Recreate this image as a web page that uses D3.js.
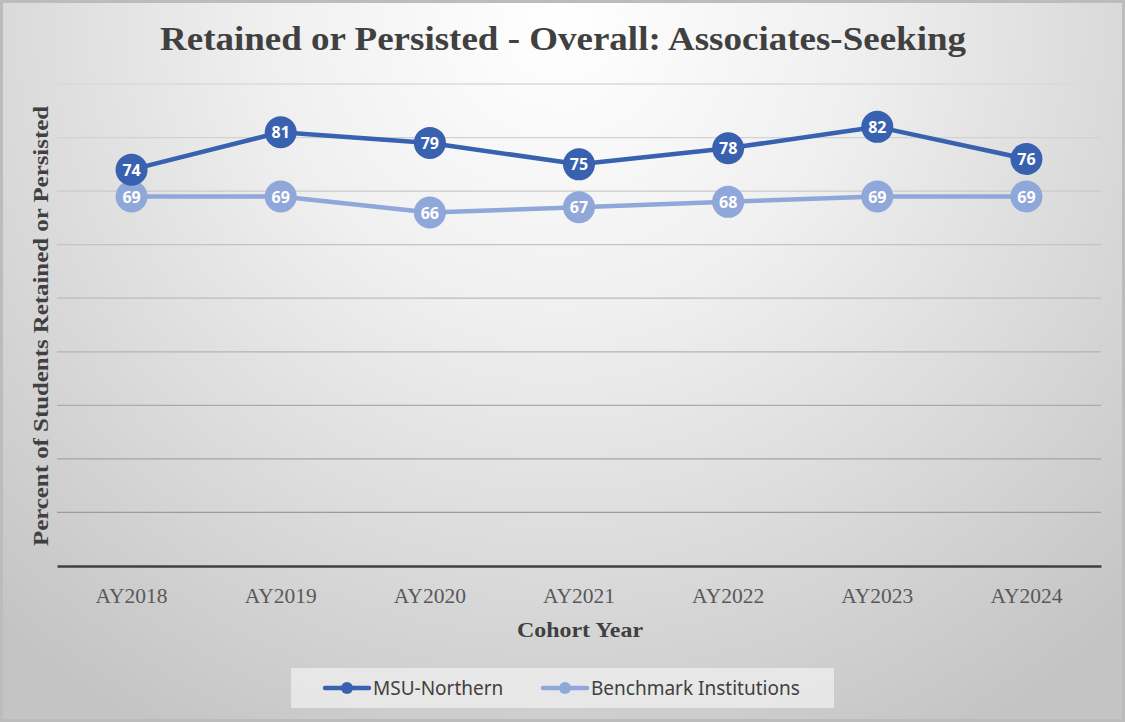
<!DOCTYPE html>
<html>
<head>
<meta charset="utf-8">
<script src="https://cdn.jsdelivr.net/npm/d3@7"></script>
<style>
  html, body { margin: 0; padding: 0; background: #fff; }
  svg { display: block; }
</style>
</head>
<body>
<div id="chart"></div>
<script>
// Veriler
const years = ["AY2018", "AY2019", "AY2020", "AY2021", "AY2022", "AY2023", "AY2024"];
const msuNorthern = [74, 81, 79, 75, 78, 82, 76];
const benchmark = [69, 69, 66, 67, 68, 69, 69];
const yTicks = [0, 10, 20, 30, 40, 50, 60, 70, 80, 90];

const seriesNames = ["MSU-Northern", "Benchmark Institutions"];
const seriesColors = ["#3862af", "#8fa7d9"];

const width = 1125, height = 722;
const plot = { left: 57, right: 1101, top: 84, bottom: 566 };

const svg = d3.select("#chart").append("svg")
  .attr("width", width)
  .attr("height", height);

// Arkaplan gradyani
const defs = svg.append("defs");
const bg = defs.append("radialGradient")
  .attr("id", "bgGrad")
  .attr("gradientUnits", "userSpaceOnUse")
  .attr("cx", 560).attr("cy", 20)
  .attr("r", 820);
bg.append("stop").attr("offset", "0%").attr("stop-color", "#ffffff");
bg.append("stop").attr("offset", "35%").attr("stop-color", "#f0f0f0");
bg.append("stop").attr("offset", "100%").attr("stop-color", "#c4c4c4");

svg.append("rect")
  .attr("x", 1.5).attr("y", 1.5)
  .attr("width", width - 3).attr("height", height - 3)
  .attr("fill", "url(#bgGrad)")
  .attr("stroke", "#bcbcbc")
  .attr("stroke-width", 3);

// Olcekler
const x = d3.scaleBand()
  .domain(years)
  .range([plot.left, plot.right]);

const y = d3.scaleLinear()
  .domain([0, 90])
  .range([plot.bottom, plot.top]);

// Izgara cizgileri (ustte acik, altta koyu)
const gridColor = d3.scaleLinear()
  .domain([plot.top, plot.bottom - 54])
  .range(["#dadada", "#9c9c9c"]);

svg.append("g")
  .selectAll("line")
  .data(yTicks.filter(d => d > 0))
  .join("line")
  .attr("x1", plot.left).attr("x2", plot.right)
  .attr("y1", d => y(d)).attr("y2", d => y(d))
  .attr("stroke", d => gridColor(y(d)))
  .attr("stroke-width", 1.3);

// X ekseni
const xAxis = svg.append("g")
  .attr("transform", `translate(0,${plot.bottom})`)
  .call(d3.axisBottom(x).tickSize(0).tickPadding(22));
xAxis.select(".domain")
  .attr("stroke", "#404040")
  .attr("stroke-width", 2.5);
xAxis.selectAll("text")
  .attr("font-family", "'Liberation Serif', 'DejaVu Serif', serif")
  .attr("font-size", 21.5)
  .attr("fill", "#595959");

// Baslik
svg.append("text")
  .attr("x", 563).attr("y", 50)
  .attr("text-anchor", "middle")
  .attr("font-family", "'Liberation Serif', 'DejaVu Serif', serif")
  .attr("font-weight", "bold")
  .attr("font-size", 33)
  .attr("fill", "#404040")
  .attr("textLength", 806)
  .attr("lengthAdjust", "spacingAndGlyphs")
  .text("Retained or Persisted - Overall: Associates-Seeking");

// Eksen basliklari
svg.append("text")
  .attr("transform", "translate(48,326) rotate(-90)")
  .attr("text-anchor", "middle")
  .attr("font-family", "'Liberation Serif', 'DejaVu Serif', serif")
  .attr("font-weight", "bold")
  .attr("font-size", 20)
  .attr("fill", "#404040")
  .attr("textLength", 440)
  .attr("lengthAdjust", "spacingAndGlyphs")
  .text("Percent of Students Retained or Persisted");

svg.append("text")
  .attr("x", 580).attr("y", 637)
  .attr("text-anchor", "middle")
  .attr("font-family", "'Liberation Serif', 'DejaVu Serif', serif")
  .attr("font-weight", "bold")
  .attr("font-size", 21)
  .attr("fill", "#404040")
  .attr("textLength", 126)
  .attr("lengthAdjust", "spacingAndGlyphs")
  .text("Cohort Year");

// Seriler
const series = [benchmark, msuNorthern];
const seriesColorOrder = [seriesColors[1], seriesColors[0]];
const line = d3.line()
  .x((d, i) => x(years[i]) + x.bandwidth() / 2)
  .y(d => y(d));

series.forEach((vals, si) => {
  const color = seriesColorOrder[si];
  const g = svg.append("g");
  g.append("path")
    .datum(vals)
    .attr("fill", "none")
    .attr("stroke", color)
    .attr("stroke-width", 4.5)
    .attr("stroke-linejoin", "round")
    .attr("d", line);

  const pts = g.selectAll("g.pt")
    .data(vals)
    .join("g")
    .attr("class", "pt")
    .attr("transform", (d, i) => `translate(${x(years[i]) + x.bandwidth() / 2},${y(d)})`);

  pts.append("circle")
    .attr("r", 16)
    .attr("fill", color);

  pts.append("text")
    .attr("text-anchor", "middle")
    .attr("dy", "0.38em")
    .attr("font-family", "'Open Sans', 'Noto Sans', sans-serif")
    .attr("font-weight", "bold")
    .attr("font-size", 16)
    .attr("fill", "#ffffff")
    .text(d => d);
});

// Lejant
const legend = svg.append("g");
legend.append("rect")
  .attr("x", 291).attr("y", 668)
  .attr("width", 543).attr("height", 40)
  .attr("fill", "#efefef")
  .attr("fill-opacity", 0.75);

const legendItems = [
  { name: seriesNames[0], color: seriesColors[0], x: 325 },
  { name: seriesNames[1], color: seriesColors[1], x: 543 }
];
const li = legend.selectAll("g.item")
  .data(legendItems)
  .join("g")
  .attr("class", "item")
  .attr("transform", d => `translate(${d.x},688)`);
li.append("line")
  .attr("x1", 0).attr("x2", 44)
  .attr("stroke", d => d.color)
  .attr("stroke-width", 4.5)
  .attr("stroke-linecap", "round");
li.append("circle")
  .attr("cx", 22).attr("r", 6)
  .attr("fill", d => d.color);
li.append("text")
  .attr("x", 48).attr("y", 7)
  .attr("font-family", "'Noto Sans', 'Open Sans', sans-serif")
  .attr("font-size", 19)
  .attr("fill", "#404040")
  .text(d => d.name);
</script>
</body>
</html>
